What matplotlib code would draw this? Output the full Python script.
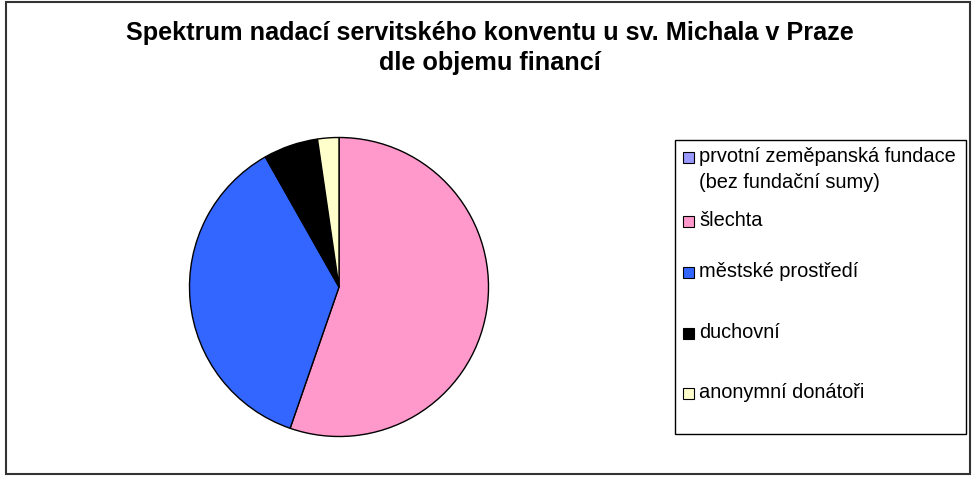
import matplotlib
matplotlib.use('Agg')
import matplotlib.pyplot as plt
from matplotlib.patches import Rectangle

plt.rcParams['font.family'] = ['Liberation Sans', 'DejaVu Sans']

# data
kategorie = ['prvotní zeměpanská fundace\n(bez fundační sumy)', 'šlechta',
             'městské prostředí', 'duchovní', 'anonymní donátoři']
podil = [0, 55.3, 36.5, 5.9, 2.3]
barvy = ['#9999FF', '#FF99CC', '#3366FF', '#000000', '#FFFFCC']

W, H = 974, 479
fig = plt.figure(figsize=(W / 100, H / 100), dpi=100)

# ramecek kolem celeho grafu
fig.patches.append(Rectangle((6 / W, 1 - 474 / H), 964 / W, 472 / H, transform=fig.transFigure,
                             fill=False, edgecolor='#333333', linewidth=1.5))

fig.text(490 / W, 1 - 48 / H, 'Spektrum nadací servitského konventu u sv. Michala v Praze\ndle objemu financí',
         ha='center', va='center', fontsize=18.2, fontweight='bold', linespacing=1.32)

# kolac
cx, cy, r = 339, 287, 151
ax = fig.add_axes([(cx - r) / W, (H - cy - r) / H, 2 * r / W, 2 * r / H])
ax.pie(podil, colors=barvy, startangle=90, counterclock=False, radius=1,
       wedgeprops=dict(edgecolor='black', linewidth=1.0))
ax.set_xlim(-1.01, 1.01)
ax.set_ylim(-1.01, 1.01)
ax.set_aspect('auto')
ax.axis('off')

# legenda
fig.patches.append(Rectangle((675 / W, 1 - 434 / H), 291 / W, 294 / H, transform=fig.transFigure,
                             fill=False, edgecolor='black', linewidth=1.0))
legend_y = [157, 221, 272, 333, 393]
for lab, c, y in zip(kategorie, barvy, legend_y):
    fig.patches.append(Rectangle((683 / W, 1 - (y + 6) / H), 11 / W, 11 / H, transform=fig.transFigure,
                                 facecolor=c, edgecolor='black', linewidth=0.8))
    fig.text(699 / W, 1 - (y - 10) / H, lab, ha='left', va='top', fontsize=14.4, linespacing=1.45)

fig.savefig('out.png', dpi=100)
